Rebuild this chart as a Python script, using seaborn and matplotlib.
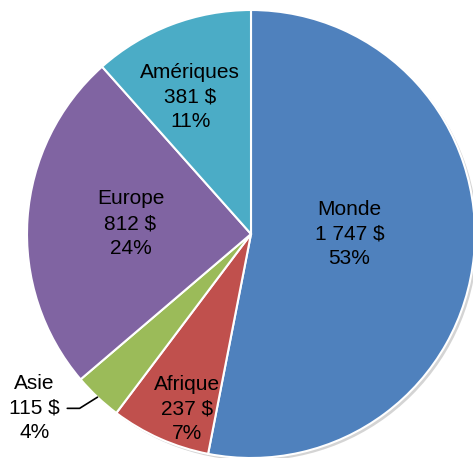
import numpy as np
import matplotlib
matplotlib.use("Agg")
import matplotlib.pyplot as plt
import seaborn as sns
from matplotlib.patches import Circle

# Données (sens horaire depuis le haut)
regions = ["Monde", "Afrique", "Asie", "Europe", "Amériques"]
montants = [1747, 237, 115, 812, 381]
montant_labels = ["1 747 $", "237 $", "115 $", "812 $", "381 $"]
pourcentages = ["53%", "7%", "4%", "24%", "11%"]
couleurs = ["#4F81BD", "#C0504D", "#9BBB59", "#8064A2", "#4BACC6"]

sns.set_theme(style="white")
plt.rcParams['font.family'] = ['Liberation Sans', 'DejaVu Sans']

W, H, DPI = 473, 458, 100
fig = plt.figure(figsize=(W / DPI, H / DPI), dpi=DPI)
ax = fig.add_axes([0, 0, 1, 1])

# centre et rayon du camembert en pixels
cx, cy, r = 251, 234, 224

# ombre légère
ax.add_patch(Circle((0.012, -0.012), 1.0, color="#b8b8b8", alpha=0.6, zorder=0, lw=0))

wedges, _ = ax.pie(
    montants,
    colors=couleurs,
    startangle=90,
    counterclock=False,
    radius=1.0,
    wedgeprops=dict(edgecolor="white", linewidth=1.5),
)

# position des étiquettes : (distance, décalage angulaire)
placement = {
    "Monde": (0.44, 5.5),
    "Afrique": (0.83, 4.0),
    "Asie": (1.24, -8.0),
    "Europe": (0.54, -1.0),
    "Amériques": (0.67, 3.0),
}

for w, nom, m, p in zip(wedges, regions, montant_labels, pourcentages):
    mid = (w.theta1 + w.theta2) / 2
    d, da = placement[nom]
    a = np.deg2rad(mid + da)
    x, y = d * np.cos(a), d * np.sin(a)
    ax.text(x, y, f"{nom}\n{m}\n{p}", ha="center", va="center",
            fontsize=15, color="black", linespacing=1.38, zorder=5)
    if nom == "Asie":
        am = np.deg2rad(mid)
        ex, ey = np.cos(am), np.sin(am)
        kx, ky = ex - 0.08, ey - 0.05
        sx, sy = kx - 0.055, ky
        ax.plot([sx, kx, ex], [sy, ky, ey], color="black", lw=1.2, zorder=5)

ax.set_xlim(-cx / r, (W - cx) / r)
ax.set_ylim(-(H - cy) / r, cy / r)
ax.set_aspect("auto")
ax.axis("off")

fig.savefig("out.png", dpi=DPI)
